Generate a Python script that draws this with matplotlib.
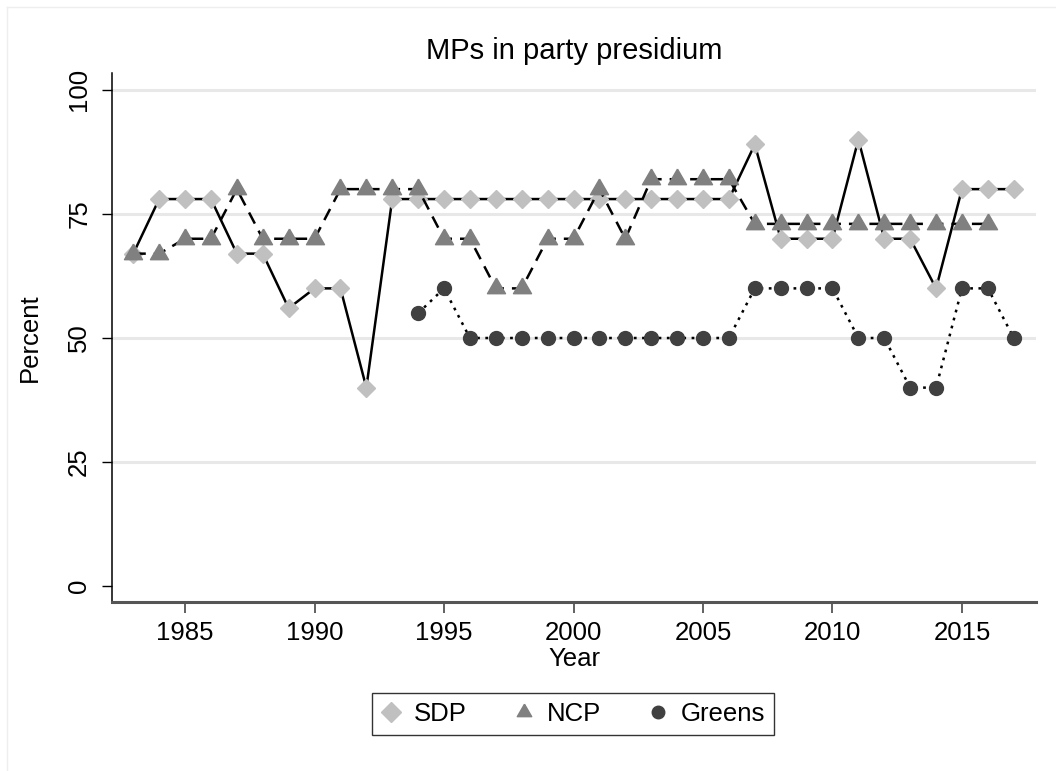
import matplotlib
matplotlib.use("Agg")
import matplotlib.pyplot as plt
from matplotlib.lines import Line2D
import numpy as np

plt.rcParams["font.family"] = ["Liberation Sans", "DejaVu Sans"]

# share of MPs in the party presidium, by year
years = list(range(1983, 2018))
sdp = [67, 78, 78, 78, 67, 67, 56, 60, 60, 40, 78, 78,
       78, 78, 78, 78, 78, 78, 78, 78, 78, 78, 78, 78,
       89, 70, 70, 70, 90, 70, 70, 60, 80, 80, 80]
ncp_years = list(range(1983, 2017))
ncp = [67, 67, 70, 70, 80, 70, 70, 70, 80, 80, 80, 80,
       70, 70, 60, 60, 70, 70, 80, 70, 82, 82, 82, 82,
       73, 73, 73, 73, 73, 73, 73, 73, 73, 73]
greens_years = list(range(1994, 2018))
greens = [55, 60, 50, 50, 50, 50, 50, 50, 50, 50, 50, 50, 50,
          60, 60, 60, 60, 50, 50, 40, 40, 60, 60, 50]

yticks = [0, 25, 50, 75, 100]
xticks = [1985, 1990, 1995, 2000, 2005, 2010, 2015]

# equilateral triangle marker
tri = [(0, 1), (-0.866, -0.5), (0.866, -0.5), (0, 1)]

fig = plt.figure(figsize=(10.56, 7.71), dpi=100)
ax = fig.add_axes([0.1061, 0.2192, 0.875, 0.6861])

for y in yticks[1:]:
    ax.axhline(y, color="#e8e8e8", lw=2.2, zorder=0)

ax.plot(years, sdp, color="black", lw=1.8, ls="-", marker="D", ms=9.5,
        mfc="#c0c0c0", mec="#c0c0c0", label="SDP", zorder=2)
ax.plot(ncp_years, ncp, color="black", lw=1.8, ls=(0, (5, 3.2)), marker=tri,
        ms=15, mfc="#808080", mec="#808080", label="NCP", zorder=3)
ax.plot(greens_years, greens, color="black", lw=1.8, ls=(0, (1.1, 2.2)),
        marker="o", ms=10, mfc="#404040", mec="#404040", label="Greens", zorder=4)

ax.set_xlim(1982.18, 2017.86)
ax.set_ylim(-3.2, 103.4)
ax.set_xticks(xticks)
ax.set_yticks(yticks)
ax.set_yticklabels([str(v) for v in yticks], rotation=90, va="center")
ax.tick_params(axis="both", labelsize=18.5)
ax.tick_params(axis="y", length=7, width=1, color="black", pad=8)
ax.tick_params(axis="x", length=8, width=1.3, color="#555555", pad=6)

for side in ("top", "right"):
    ax.spines[side].set_visible(False)
ax.spines["left"].set_color("black")
ax.spines["left"].set_linewidth(1.1)
ax.spines["bottom"].set_color("#555555")
ax.spines["bottom"].set_linewidth(2.2)

ax.set_xlabel("Year", fontsize=18.5, labelpad=1)
ax.set_ylabel("Percent", fontsize=18.5, labelpad=18)
ax.set_title("MPs in party presidium", fontsize=21, pad=10)

handles = [
    Line2D([], [], ls="none", marker="D", ms=10, mfc="#c0c0c0", mec="#c0c0c0"),
    Line2D([], [], ls="none", marker=tri, ms=12, mfc="#808080", mec="#808080"),
    Line2D([], [], ls="none", marker="o", ms=9, mfc="#404040", mec="#404040"),
]
leg = fig.legend(handles, ["SDP", "NCP", "Greens"], loc="center",
                 bbox_to_anchor=(0.5426, 0.0739), ncol=3, fontsize=18.5,
                 frameon=True, fancybox=False, edgecolor="black",
                 handlelength=0.8, handletextpad=0.5, columnspacing=1.8,
                 borderpad=0.35)
leg.get_frame().set_linewidth(1.0)

# faint outer frame of the graph region
fig.add_artist(Line2D([7 / 1056, 1.0], [1 - 7 / 771, 1 - 7 / 771],
                      transform=fig.transFigure, color="#eeeeee", lw=1))
fig.add_artist(Line2D([7 / 1056, 7 / 1056], [0.0, 1 - 7 / 771],
                      transform=fig.transFigure, color="#eeeeee", lw=1))

fig.savefig("out.png", dpi=100)
